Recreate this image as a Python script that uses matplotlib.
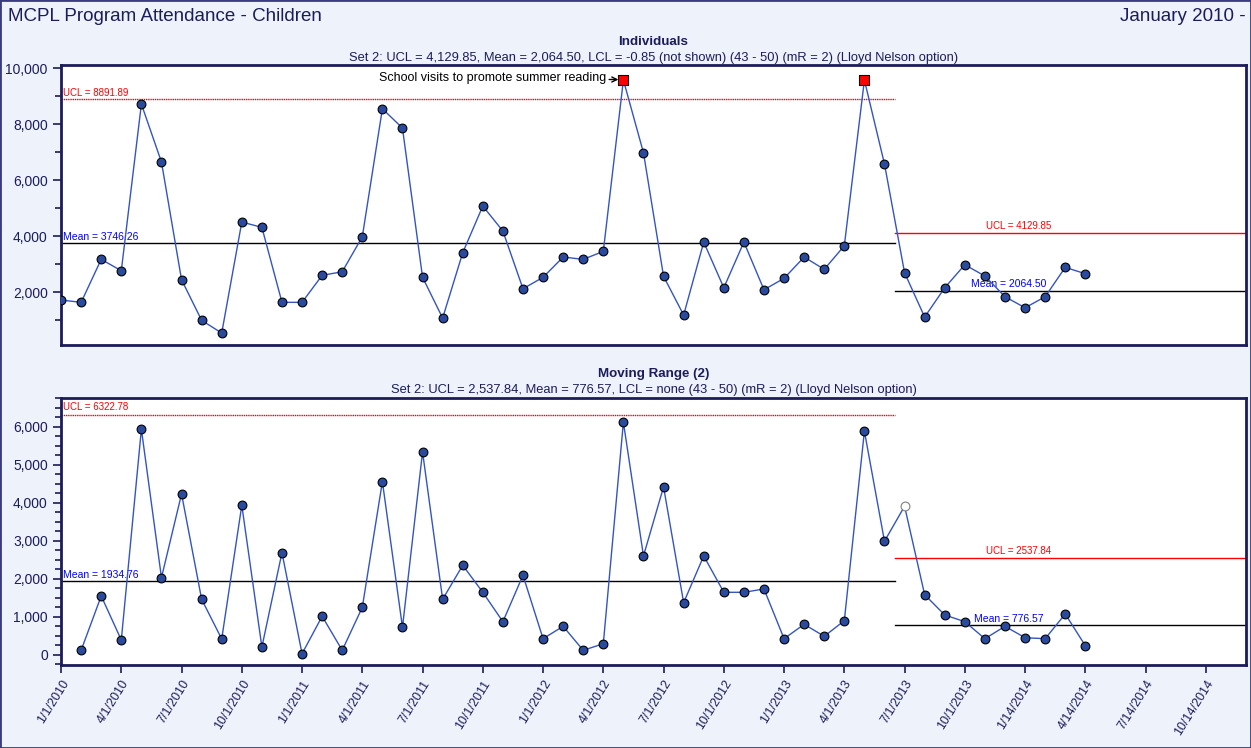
import numpy as np
import matplotlib.pyplot as plt
from matplotlib.patches import Rectangle

plt.rcParams['font.family'] = ['Liberation Sans', 'DejaVu Sans']

# monthly attendance, Jan 2010 onward
individuals = [1725, 1643, 3178, 2771, 8725, 6654, 2450, 1000, 546, 4511,
               4321, 1643, 1643, 2607, 2736, 3986, 8557, 7868, 2536, 1082,
               3414, 5082, 4189, 2129, 2536, 3261, 3178, 3464, 9582, 6986,
               2571, 1189, 3796, 2164, 3796, 2093, 2500, 3261, 2821, 3664,
               9582, 6582, 2700, 1118, 2164, 2986, 2582, 1843, 1450, 1843,
               2893, 2664]
# moving range (2), starts at second point
moving_range = [116, 1547, 387, 5939, 2029, 4234, 1460, 414, 3936, 203,
                2688, 26, 1012, 116, 1249, 4559, 721, 5341, 1460, 2355,
                1644, 870, 2092, 422, 748, 116, 290, 6124, 2601, 4419,
                1370, 2601, 1644, 1644, 1731, 422, 801, 485, 896, 5887,
                2988, 3910, 1581, 1046, 870, 422, 748, 448, 422, 1072, 238]
date_labels = ['1/1/2010', '4/1/2010', '7/1/2010', '10/1/2010', '1/1/2011',
               '4/1/2011', '7/1/2011', '10/1/2011', '1/1/2012', '4/1/2012',
               '7/1/2012', '10/1/2012', '1/1/2013', '4/1/2013', '7/1/2013',
               '10/1/2013', '1/14/2014', '4/14/2014', '7/14/2014', '10/14/2014']

ind_ucl = [8891.89, 4129.85]
ind_mean = [3746.26, 2064.50]
mr_ucl = [6322.78, 2537.84]
mr_mean = [1934.76, 776.57]
set2_start = 42  # first point of set 2 (0-based)

navy = '#1c1c5a'
bg = '#eef2fb'
line_blue = '#3355c0'
dot_blue = '#2a4a9e'

fig = plt.figure(figsize=(12.51, 7.48), dpi=100, facecolor=bg)
fig.patches.append(Rectangle((0, 0), 1, 1, transform=fig.transFigure, fill=False,
                             edgecolor='#3a3a80', linewidth=2))

ax1 = fig.add_axes([0.0488, 0.5388, 0.9472, 0.3743])
ax2 = fig.add_axes([0.0488, 0.1110, 0.9472, 0.3574])

x_ind = np.arange(len(individuals))
x_mr = np.arange(1, len(individuals))
ind = np.array(individuals)
mr = np.array(moving_range)
split = set2_start - 0.5
xmax = 59


def limits(ax, ucl, mean, ucl_lbl_y, mean_lbl_y):
    ax.plot([0, split], [ucl[0]] * 2, color='red', lw=1, ls=(0, (1, 0.6)), zorder=2)
    ax.plot([0, split], [mean[0]] * 2, color='black', lw=1, zorder=2)
    ax.plot([split, xmax], [ucl[1]] * 2, color='red', lw=1, zorder=2)
    ax.plot([split, xmax], [mean[1]] * 2, color='black', lw=1, zorder=2)
    ax.text(0.1, ucl[0] + ucl_lbl_y, 'UCL = %.2f' % ucl[0], color='red', fontsize=7, va='bottom')
    ax.text(0.1, mean[0] + mean_lbl_y, 'Mean = %.2f' % mean[0], color='blue', fontsize=7.5, va='bottom')
    ax.text(47.7, ucl[1] + ucl_lbl_y, 'UCL = %.2f' % ucl[1], color='red', fontsize=7, va='bottom', ha='center')
    ax.text(47.2, mean[1] + mean_lbl_y, 'Mean = %.2f' % mean[1], color='blue', fontsize=7.5, va='bottom', ha='center')


def style(ax):
    ax.set_facecolor('white')
    for s in ax.spines.values():
        s.set_color(navy)
        s.set_linewidth(2)
    ax.tick_params(axis='y', colors=navy, labelsize=10, direction='out', length=6, width=1.2)
    ax.tick_params(axis='y', which='minor', direction='out', length=4, width=1.2, colors=navy)
    ax.set_xlim(0, xmax)


# Individuals
style(ax1)
limits(ax1, ind_ucl, ind_mean, 60, 40)
ax1.plot(x_ind, ind, color=line_blue, lw=1, zorder=3)
flag = np.zeros(len(ind), bool)
flag[:set2_start] = ind[:set2_start] > ind_ucl[0]
ax1.scatter(x_ind[~flag], ind[~flag], s=40, color=dot_blue, edgecolor='black', linewidth=0.8, zorder=4)
ax1.scatter(x_ind[flag], ind[flag], s=44, marker='s', color='red', edgecolor='black', linewidth=0.8, zorder=4)
ax1.set_ylim(120, 10120)
ax1.set_yticks([2000, 4000, 6000, 8000, 10000])
ax1.set_yticks([1000, 3000, 5000, 7000, 9000], minor=True)
ax1.yaxis.set_major_formatter(plt.FuncFormatter(lambda v, p: '{:,.0f}'.format(v)))
ax1.set_xticks([])
ax1.annotate('School visits to promote summer reading', xy=(27.75, 9600), xytext=(27.15, 9640),
             fontsize=9, ha='right', va='center',
             arrowprops=dict(arrowstyle='->', color='black', lw=1, shrinkA=0, shrinkB=0))

# Moving range
style(ax2)
limits(ax2, mr_ucl, mr_mean, 60, 40)
ax2.plot(x_mr, mr, color=line_blue, lw=1, zorder=3)
hollow = x_mr == set2_start
ax2.scatter(x_mr[~hollow], mr[~hollow], s=40, color=dot_blue, edgecolor='black', linewidth=0.8, zorder=4)
ax2.scatter(x_mr[hollow], mr[hollow], s=40, color='white', edgecolor='gray', linewidth=0.8, zorder=4)
ax2.set_ylim(-270, 6770)
ax2.set_yticks(np.arange(0, 7000, 1000))
ax2.set_yticks(np.arange(-250, 6751, 250), minor=True)
ax2.yaxis.set_major_formatter(plt.FuncFormatter(lambda v, p: '{:,.0f}'.format(v)))
ax2.set_xticks(np.arange(0, 3 * len(date_labels), 3))
ax2.set_xticklabels(date_labels, rotation=58, ha='right', rotation_mode='anchor')
ax2.tick_params(axis='x', colors=navy, labelsize=9, direction='out', length=6, width=1.2)

# panel titles: bold heading over a plain subtitle
heads = [(ax1, 'Individuals', 1.062,
          'Set 2: UCL = 4,129.85, Mean = 2,064.50, LCL = -0.85 (not shown) (43 - 50) (mR = 2) (Lloyd Nelson option)'),
         (ax2, 'Moving Range (2)', 1.065,
          'Set 2: UCL = 2,537.84, Mean = 776.57, LCL = none (43 - 50) (mR = 2) (Lloyd Nelson option)')]
for ax, head, hy, sub in heads:
    ax.set_title(sub, fontsize=9.3, color=navy, pad=3)
    ax.text(0.5, hy, head, transform=ax.transAxes, ha='center', va='bottom',
            fontsize=9.6, fontweight='bold', color=navy)

fig.text(0.006, 0.978, 'MCPL Program Attendance - Children', fontsize=13.5, color=navy, va='center')
fig.text(0.996, 0.978, 'January 2010 -', fontsize=13.5, color=navy, va='center', ha='right')

plt.savefig('out.png', dpi=100, facecolor=bg)
